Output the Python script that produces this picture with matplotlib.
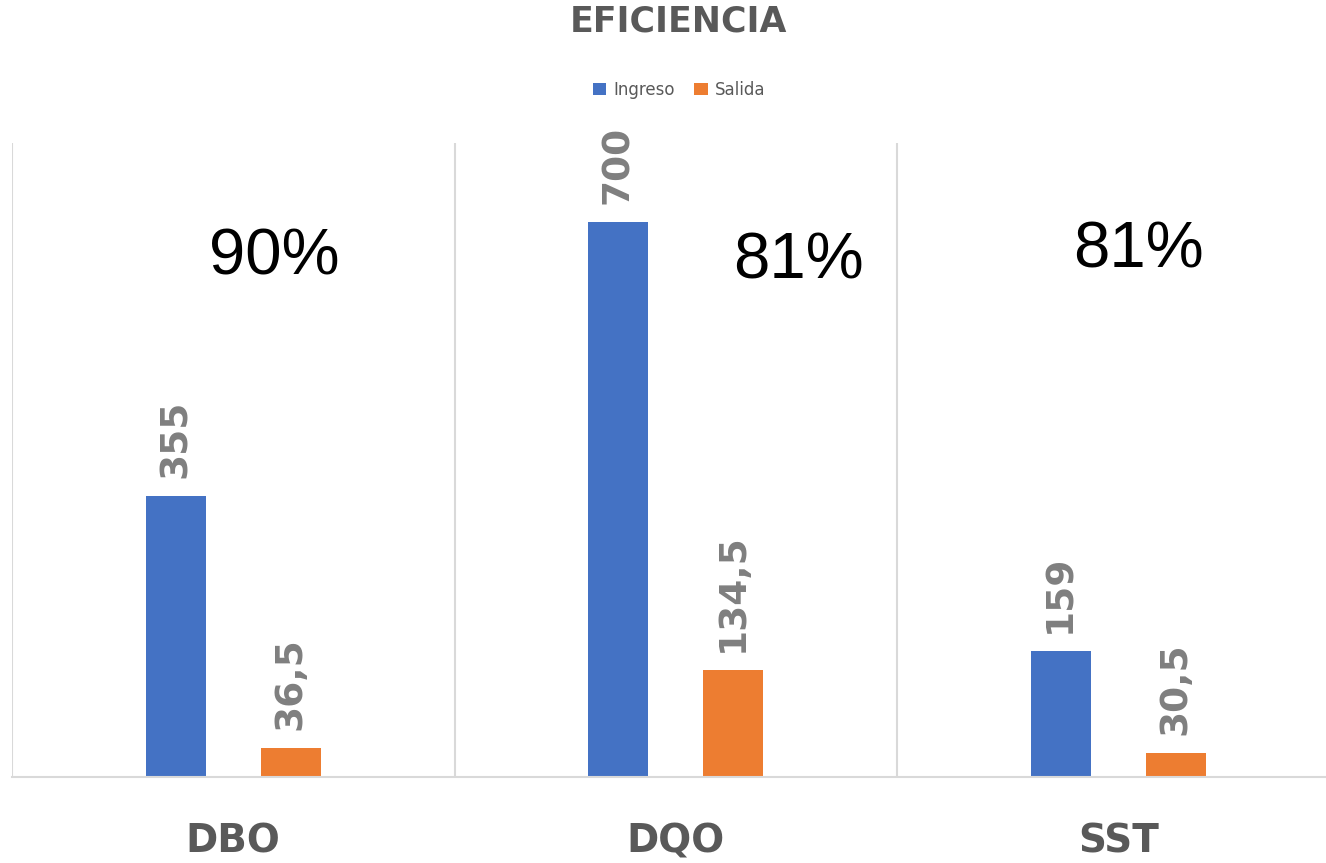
import matplotlib.pyplot as plt
import numpy as np

categories = ["DBO", "DQO", "SST"]
ingreso = [355, 700, 159]
salida = [36.5, 134.5, 30.5]
ingreso_labels = ["355", "700", "159"]
salida_labels = ["36,5", "134,5", "30,5"]
eficiencia = ["90%", "81%", "81%"]
# where the percent boxes sit (data coords)
pct_pos = [(0.093, 656), (1.277, 651), (2.045, 664)]

blue = "#4472C4"
orange = "#ED7D31"
gray = "#7F7F7F"
dark = "#595959"

fig = plt.figure(figsize=(13.26, 8.63), dpi=100)
ax = fig.add_axes([12 / 1326, 86 / 863, 1.0 - 12 / 1326, 634 / 863])

x = np.arange(len(categories))
w = 0.1356
off = 0.13
b1 = ax.bar(x - off, ingreso, w, color=blue, label="Ingreso")
b2 = ax.bar(x + off, salida, w, color=orange, label="Salida")

ax.bar_label(b1, labels=ingreso_labels, rotation=90, padding=13,
             fontsize=27, fontweight="bold", color=gray)
ax.bar_label(b2, labels=salida_labels, rotation=90, padding=13,
             fontsize=27, fontweight="bold", color=gray)

for (px, py), t in zip(pct_pos, eficiencia):
    ax.text(px, py, t, ha="center", va="center", fontsize=47,
            family="Liberation Sans", color="black")

ax.set_xlim(-0.5, -0.5 + 1314 / 442.5)
ax.set_ylim(0, 800)
for xv in [-0.5, 0.5, 1.5, 2.5]:
    ax.axvline(xv, color="#d9d9d9", lw=1.5, zorder=0)

for s in ["top", "right", "left"]:
    ax.spines[s].set_visible(False)
ax.spines["bottom"].set_color("#d9d9d9")
ax.spines["bottom"].set_linewidth(1.5)
ax.set_yticks([])
ax.set_xticks(x)
ax.set_xticklabels(categories, fontsize=28, fontweight="bold", color=dark)
ax.tick_params(axis="x", length=0, pad=33)

fig.text(0.512, 0.975, "EFICIENCIA", ha="center", va="center",
         fontsize=25, fontweight="bold", color=dark)
fig.legend(loc="center", bbox_to_anchor=(0.512, 0.896), ncol=2, frameon=False,
           fontsize=12, handlelength=0.8, handleheight=0.8, columnspacing=1.2,
           handletextpad=0.4, labelcolor=dark)

fig.savefig("out.png", dpi=100)
